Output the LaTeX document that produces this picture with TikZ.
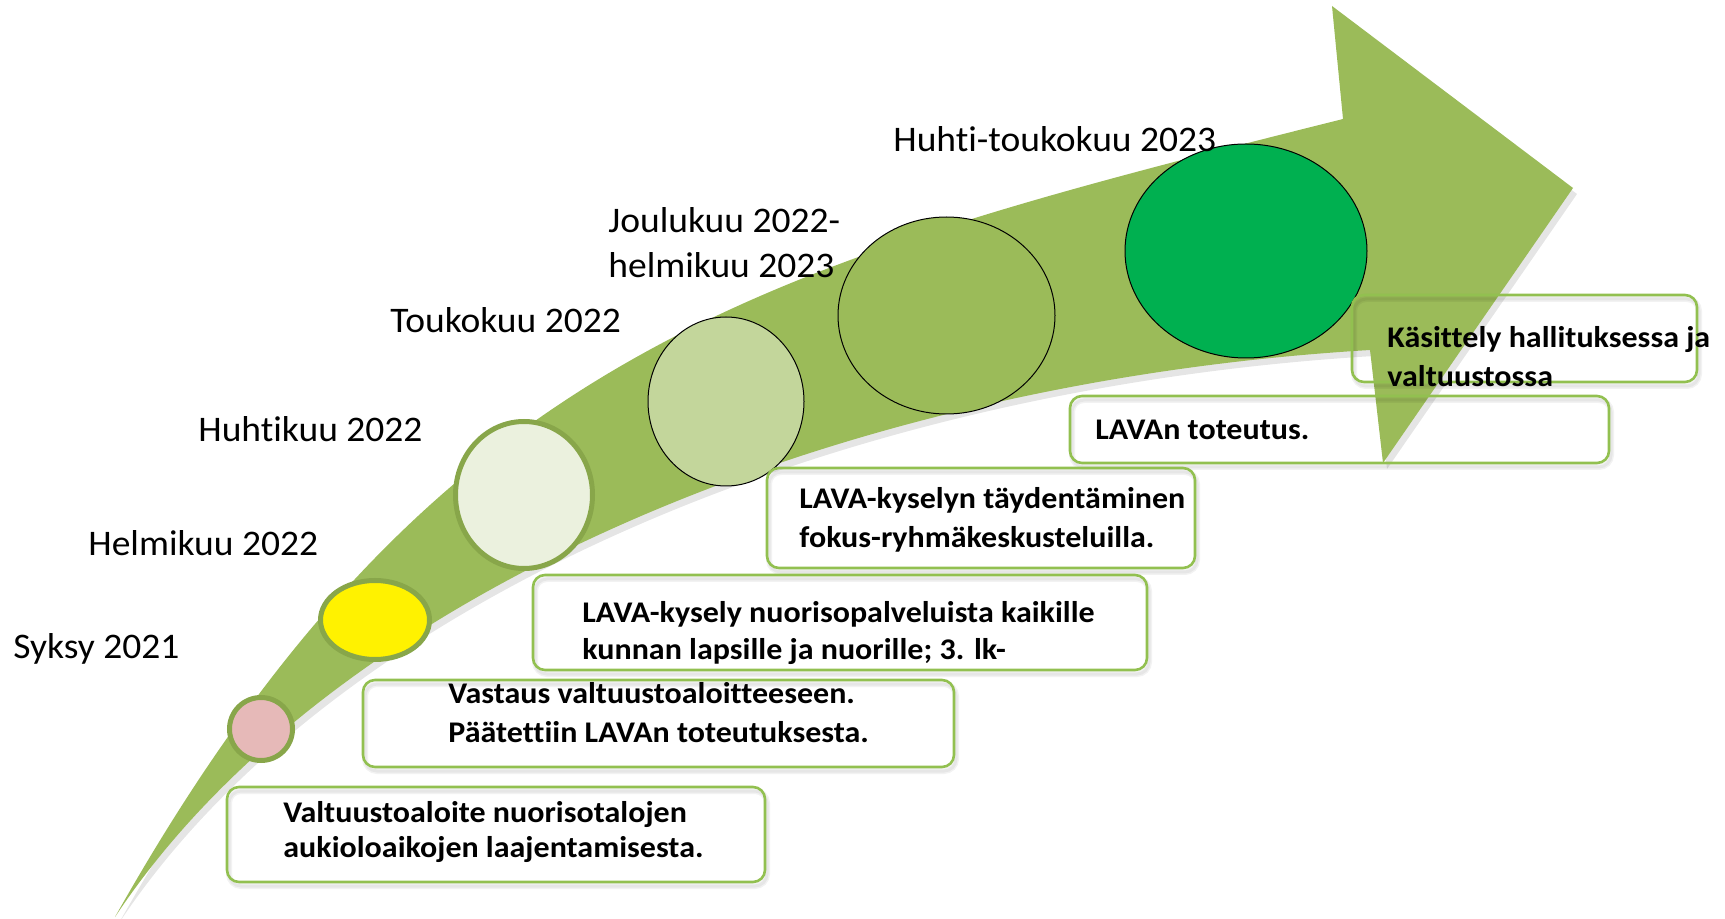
\documentclass[tikz,border=0pt]{standalone}
\usepackage{fontspec}
\setmainfont{Carlito}[Ligatures=NoCommon]
\newfontfamily\labelfont{Carlito}[Ligatures=NoCommon, FakeStretch=1.042]
\newfontfamily\boxfont{Carlito}[Ligatures=NoCommon, FakeStretch=1.067]
\usetikzlibrary{shapes.geometric}
\definecolor{arrowgreen}{HTML}{9BBB59}
\definecolor{ringgreen}{HTML}{88A64A}
\definecolor{boxgreen}{HTML}{92C050}
\definecolor{pinkfill}{HTML}{E6B9B8}
\definecolor{lightfill}{HTML}{EBF1DE}
\definecolor{midfill}{HTML}{C3D69B}
\definecolor{strongfill}{HTML}{00B050}
\tikzset{
  ring/.style={ellipse, draw=ringgreen, line width=2.5pt, inner sep=0pt},
  blackring/.style={ellipse, draw=black, line width=0.5pt, inner sep=0pt},
  datelabel/.style={anchor=base west, inner sep=0pt, font=\labelfont\fontsize{18}{22}\selectfont},
  boxtext/.style={anchor=base west, inner sep=0pt, font=\boxfont\bfseries\fontsize{15}{18}\selectfont},
  roundbox/.style={draw=boxgreen, line width=1.3pt, rounded corners=6pt},
  boxshadow/.style={draw=black, opacity=0.05, line width=3pt, rounded corners=6pt, shift={(2,4)}},
  boxshadowin/.style={draw=black, opacity=0.05, line width=1.5pt, rounded corners=6pt, shift={(2,4)}}
}
\begin{document}
\begin{tikzpicture}[x=0.5pt,y=-0.5pt]
\useasboundingbox (0,0) rectangle (1725,919);
% arrow shadow
\fill[black, opacity=0.10] (119,923) .. controls (438,357) and (765,271) .. (1347,125)
  -- (1336,12) -- (1577,194) -- (1387,469) -- (1374,356)
  .. controls (824,389) and (328,607.6) .. (119,923) -- cycle;
% arrow
\fill[arrowgreen] (115,917) .. controls (434,351) and (761,265) .. (1343,119)
  -- (1332,6) -- (1573,188) -- (1383,463) -- (1370,350)
  .. controls (820,383) and (324,601.6) .. (115,917) -- cycle;
% circles
\node[ring, fill=pinkfill, minimum width=31.5pt, minimum height=31.5pt] (c1) at (261,729) {};
\node[ring, fill=yellow, minimum width=54.5pt, minimum height=39.5pt] (c2) at (375,620) {};
\node[ring, fill=lightfill, minimum width=68.5pt, minimum height=73.5pt] (c3) at (524,495) {};
\node[blackring, fill=midfill, minimum width=78pt, minimum height=84.5pt] (c4) at (726,401.5) {};
\node[blackring, fill=arrowgreen, minimum width=108.5pt, minimum height=98.5pt] (c5) at (946.5,315.5) {};
\node[blackring, fill=strongfill, minimum width=121pt, minimum height=107pt] (c6) at (1246,251) {};
% date labels
\node[datelabel] (l1) at (13,658) {Syksy 2021};
\node[datelabel] (l2) at (88,555) {Helmikuu 2022};
\node[datelabel] (l3) at (198,442) {Huhtikuu 2022};
\node[datelabel] (l4) at (390,333) {Toukokuu 2022};
\node[datelabel] (l5a) at (608,233) {Joulukuu 2022-};
\node[datelabel] (l5b) at (608,278) {helmikuu 2023};
\node[datelabel] (l6) at (893,152) {Huhti-toukokuu 2023};
% box shadows
\foreach \a/\b/\c/\d in {227/787/765/882, 363/680/954/767, 533/575/1147/670,
  767/468/1195/568, 1070/396/1609/463, 1352/295/1697/382}{
  \draw[boxshadow] (\a,\b) rectangle (\c,\d);
  \draw[boxshadowin] (\a,\b) rectangle (\c,\d);
}
% boxes
\draw[roundbox] (227,787) rectangle (765,882);
\draw[roundbox] (363,680) rectangle (954,767);
\draw[roundbox] (533,575) rectangle (1147,670);
\draw[roundbox] (767,468) rectangle (1195,568);
\draw[roundbox] (1070,396) rectangle (1609,463);
\draw[roundbox] (1352,295) rectangle (1697,382);
% box texts
\node[boxtext] (t1a) at (283,822) {Valtuustoaloite nuorisotalojen};
\node[boxtext] (t1b) at (283,857) {aukioloaikojen laajentamisesta.};
\node[boxtext] (t2a) at (448,703) {Vastaus valtuustoaloitteeseen.};
\node[boxtext] (t2b) at (448,742) {Päätettiin LAVAn toteutuksesta.};
\node[boxtext] (t3a) at (582,622) {LAVA-kysely nuorisopalveluista kaikille};
\node[boxtext] (t3b) at (582,660) {kunnan lapsille ja nuorille; 3. lk-};
\node[boxtext] (t4a) at (799,509) {LAVA-kyselyn täydentäminen};
\node[boxtext] (t4b) at (799,547) {fokus-ryhmäkeskusteluilla.};
\node[boxtext] (t5) at (1095,440) {LAVAn toteutus.};
\node[boxtext] (t6a) at (1387,348) {Käsittely hallituksessa ja};
\node[boxtext] (t6b) at (1387,387) {valtuustossa};
\end{tikzpicture}
\end{document}
